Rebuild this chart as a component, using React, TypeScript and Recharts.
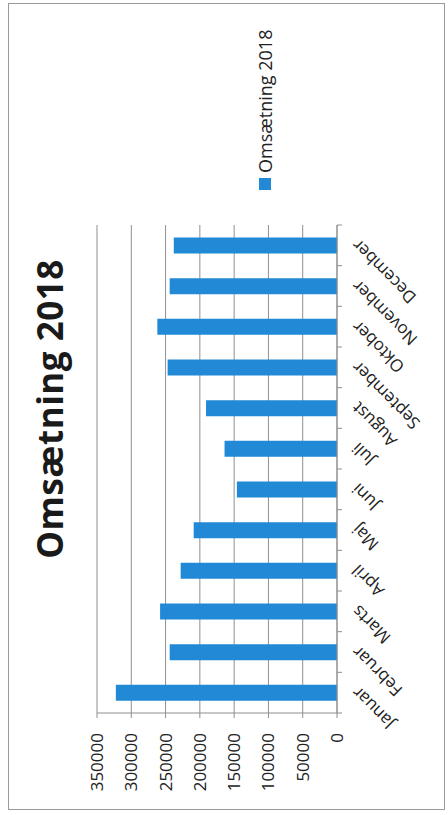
import React from "react";
import { BarChart, Bar, XAxis, YAxis, CartesianGrid } from "recharts";

const months = [
  "Januar",
  "Februar",
  "Marts",
  "April",
  "Maj",
  "Juni",
  "Juli",
  "August",
  "September",
  "Oktober",
  "November",
  "December",
];
const revenue = [322500, 244000, 258000, 228000, 209000, 146000, 164000, 191000, 247000, 262000, 244000, 238000];
const valueTicks = [0, 50000, 100000, 150000, 200000, 250000, 300000, 350000];
const seriesName = "Omsætning 2018";
const chartTitle = "Omsætning 2018";

const data = months.map((m, i) => ({ month: m, value: revenue[i] }));

// chart is drawn in its natural (upright) orientation, then turned 90° counter-clockwise
const W = 815;
const H = 448;
const Y_AXIS_W = 60;
const X_AXIS_H = 30;
const MARGIN = { top: 97, left: 42, right: 225, bottom: 81 };
const PLOT_W = W - MARGIN.left - Y_AXIS_W - MARGIN.right;
const HALF_BAND = PLOT_W / months.length / 2;

const BAR = "#2189d6";
const GRID = "#8f8f8f";
const TEXT = "#222222";
const FONT = "'Open Sans', 'Liberation Sans', sans-serif";

function CategoryTick(props: any) {
  const { x, y, payload, index } = props;
  const isLast = index === months.length - 1;
  return (
    <g>
      <line x1={x - HALF_BAND} x2={x - HALF_BAND} y1={y} y2={y + 5} stroke={GRID} />
      {isLast && <line x1={x + HALF_BAND} x2={x + HALF_BAND} y1={y} y2={y + 5} stroke={GRID} />}
      <text
        x={x + 3}
        y={y + 18}
        dy="0.35em"
        textAnchor="end"
        transform={`rotate(-45, ${x + 3}, ${y + 18})`}
        fontSize={17}
        fill={TEXT}
        fontFamily={FONT}
      >
        {payload.value}
      </text>
    </g>
  );
}

export default function App() {
  return (
    <div
      style={{
        position: "absolute",
        left: 0,
        top: 0,
        width: 448,
        height: 815,
        overflow: "hidden",
        background: "#fff",
      }}
    >
      <div
        style={{
          position: "absolute",
          left: 0,
          top: 0,
          width: W,
          height: H,
          transformOrigin: "0 0",
          transform: "matrix(0, -1, 1, 0, 0, 815)",
          fontFamily: FONT,
          background: "#fff",
        }}
      >
        <div
          style={{
            position: "absolute",
            left: 5,
            top: 8,
            width: 807,
            height: 437,
            boxSizing: "border-box",
            border: "1px solid #9a9a9a",
          }}
        />
        <div
          style={{
            position: "absolute",
            left: 0,
            top: 32,
            width: 812,
            textAlign: "center",
            fontSize: 35,
            lineHeight: 1,
            fontWeight: 700,
            letterSpacing: 0.5,
            color: "#1a1a1a",
            fontFamily: FONT,
          }}
        >
          {chartTitle}
        </div>
        <div
          style={{
            position: "absolute",
            left: 625,
            top: 256,
            display: "flex",
            alignItems: "center",
            fontSize: 18,
            lineHeight: 1,
            color: TEXT,
            fontFamily: FONT,
            whiteSpace: "nowrap",
          }}
        >
          <span style={{ display: "inline-block", width: 12, height: 12, background: BAR, marginRight: 5 }} />
          <span>{seriesName}</span>
        </div>
        <div style={{ position: "absolute", left: 0, top: 0 }}>
          <BarChart width={W} height={H} data={data} margin={MARGIN} barCategoryGap="30%">
            <CartesianGrid vertical={false} stroke={GRID} strokeDasharray="" />
            <XAxis
              dataKey="month"
              interval={0}
              height={X_AXIS_H}
              tickLine={false}
              tickSize={0}
              tickMargin={0}
              axisLine={{ stroke: GRID }}
              tick={(p: any) => <CategoryTick {...p} />}
            />
            <YAxis
              type="number"
              domain={[0, 350000]}
              ticks={valueTicks}
              interval={0}
              width={Y_AXIS_W}
              tickSize={5}
              tickMargin={15}
              axisLine={{ stroke: GRID }}
              tickLine={{ stroke: GRID }}
              tick={{ fontSize: 17, fill: TEXT, fontFamily: FONT }}
            />
            <Bar dataKey="value" name={seriesName} fill={BAR} isAnimationActive={false} />
          </BarChart>
        </div>
      </div>
    </div>
  );
}
